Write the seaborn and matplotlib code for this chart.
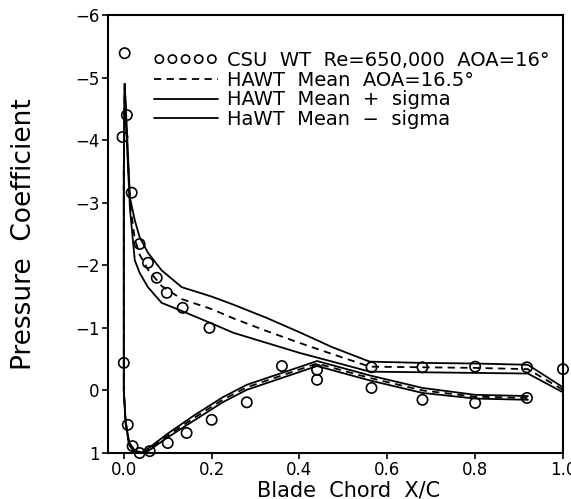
import numpy as np
import pandas as pd
import matplotlib
matplotlib.use("Agg")
import matplotlib.pyplot as plt
import seaborn as sns

# ---- measured CSU wind-tunnel points ----
x_csu = [0.002, 0.007, -0.003, 0.018, 0.036, 0.055, 0.075, 0.098, 0.134, 0.195,
         0.564, 0.68, 0.80, 0.918, 1.0,
         0.0, 0.009, 0.02, 0.036, 0.059, 0.10, 0.143, 0.20, 0.28, 0.36,
         0.44, 0.44, 0.564, 0.68, 0.80, 0.918]
cp_csu = [-5.39, -4.40, -4.05, -3.16, -2.34, -2.04, -1.80, -1.56, -1.32, -1.00,
          -0.37, -0.37, -0.38, -0.37, -0.34,
          -0.44, 0.55, 0.89, 1.0, 0.97, 0.84, 0.68, 0.47, 0.19, -0.39,
          -0.33, -0.17, -0.04, 0.15, 0.20, 0.12]

# ---- HAWT upper (suction) surface, LE -> TE ----
x_up = [0.002, 0.008, 0.014, 0.025, 0.036, 0.055, 0.086, 0.132, 0.20, 0.25,
        0.325, 0.40, 0.475, 0.56, 0.68, 0.80, 0.92, 1.0]
cp_up_mean = [-4.9, -3.9, -3.0, -2.42, -2.17, -1.93, -1.67, -1.46, -1.30, -1.15,
              -0.95, -0.76, -0.58, -0.38, -0.37, -0.36, -0.34, -0.01]
cp_up_minus = [-4.9, -4.0, -3.08, -2.72, -2.45, -2.20, -1.92, -1.65, -1.50, -1.37,
               -1.16, -0.93, -0.69, -0.46, -0.44, -0.43, -0.41, -0.05]
cp_up_plus = [-4.9, -3.8, -2.90, -2.08, -1.88, -1.65, -1.40, -1.27, -1.07, -0.92,
              -0.76, -0.60, -0.46, -0.30, -0.29, -0.28, -0.27, 0.03]

# ---- HAWT lower (pressure) surface, LE -> TE ----
x_lo = [0.0, 0.0, 0.004, 0.012, 0.025, 0.04, 0.055, 0.10, 0.16, 0.225, 0.28,
        0.377, 0.44, 0.56, 0.68, 0.80, 0.92]
cp_lo_mean = [-3.5, 0.0, 0.50, 0.85, 0.98, 1.0, 0.95, 0.72, 0.44, 0.15, -0.05,
              -0.28, -0.43, -0.20, 0.0, 0.10, 0.12]
cp_lo_plus = [-3.5, 0.0, 0.52, 0.87, 1.0, 1.0, 0.97, 0.75, 0.48, 0.19, -0.01,
              -0.24, -0.39, -0.16, 0.04, 0.13, 0.15]
cp_lo_minus = [-3.5, 0.0, 0.48, 0.83, 0.96, 0.99, 0.93, 0.69, 0.40, 0.11, -0.09,
               -0.32, -0.47, -0.24, -0.04, 0.07, 0.09]

labels = ["CSU  WT  Re=650,000  AOA=16\u00b0",
          "HAWT  Mean  AOA=16.5\u00b0",
          "HAWT  Mean  +  sigma",
          "HaWT  Mean  \u2212  sigma"]
x_ticks = [0.0, 0.2, 0.4, 0.6, 0.8, 1.0]
y_ticks = [-6, -5, -4, -3, -2, -1, 0, 1]

sns.set_theme(style="white")
plt.rcParams['font.family'] = ['DejaVu Sans']

fig = plt.figure(figsize=(5.71, 4.99), dpi=100)
ax = fig.add_axes([108/571, 1-453/499, (563-108)/571, (453-15)/499])


def loop(xu, cu, xl, cl):
    xs = list(reversed(xu)) + list(xl)
    cs = list(reversed(cu)) + list(cl)
    return pd.DataFrame({"x": xs, "cp": cs})


sns.scatterplot(data=pd.DataFrame({"x": x_csu, "cp": cp_csu}), x="x", y="cp",
                ax=ax, marker="o", s=55, facecolors="none", edgecolor="black",
                linewidth=1.2, label=labels[0], clip_on=False, zorder=3)
sns.lineplot(data=loop(x_up, cp_up_mean, x_lo, cp_lo_mean), x="x", y="cp", ax=ax,
             sort=False, estimator=None, color="black", lw=1.3,
             linestyle=(0, (4, 3)), label=labels[1])
sns.lineplot(data=loop(x_up, cp_up_plus, x_lo, cp_lo_plus), x="x", y="cp", ax=ax,
             sort=False, estimator=None, color="black", lw=1.3, label=labels[2])
sns.lineplot(data=loop(x_up, cp_up_minus, x_lo, cp_lo_minus), x="x", y="cp", ax=ax,
             sort=False, estimator=None, color="black", lw=1.3, label=labels[3])

ax.set_xlim(-0.036, 1.0)
ax.set_ylim(1, -6)
ax.set_xticks(x_ticks)
ax.set_xticklabels([f"{v:.1f}" for v in x_ticks])
ax.set_yticks(y_ticks)
ax.set_yticklabels([str(v).replace("-", "\u2212") for v in y_ticks])
ax.tick_params(direction="out", length=4, width=1.2, labelsize=12, pad=2,
               colors="black", bottom=True, left=True)
for sp in ax.spines.values():
    sp.set_color("black")
    sp.set_linewidth(1.5)

ax.set_xlabel("Blade  Chord  X/C", fontsize=15, color="black")
ax.xaxis.set_label_coords((349-108)/455, -0.062, transform=ax.transAxes)
ax.xaxis.label.set_va("top")
ax.set_ylabel("Pressure  Coefficient", fontsize=19, color="black")
ax.yaxis.set_label_coords(-(108-24)/455, 0.5, transform=ax.transAxes)
ax.yaxis.label.set_va("center")

leg = ax.legend(loc="upper left", bbox_to_anchor=(0.100, 0.918), frameon=False,
                fontsize=14, scatterpoints=5, scatteryoffsets=[0.5],
                markerscale=0.8, handlelength=3.3,
                handletextpad=0.5, labelspacing=0.04, borderpad=0,
                borderaxespad=0)
for t in leg.get_texts():
    t.set_color("black")

fig.savefig("out.png", dpi=100)
